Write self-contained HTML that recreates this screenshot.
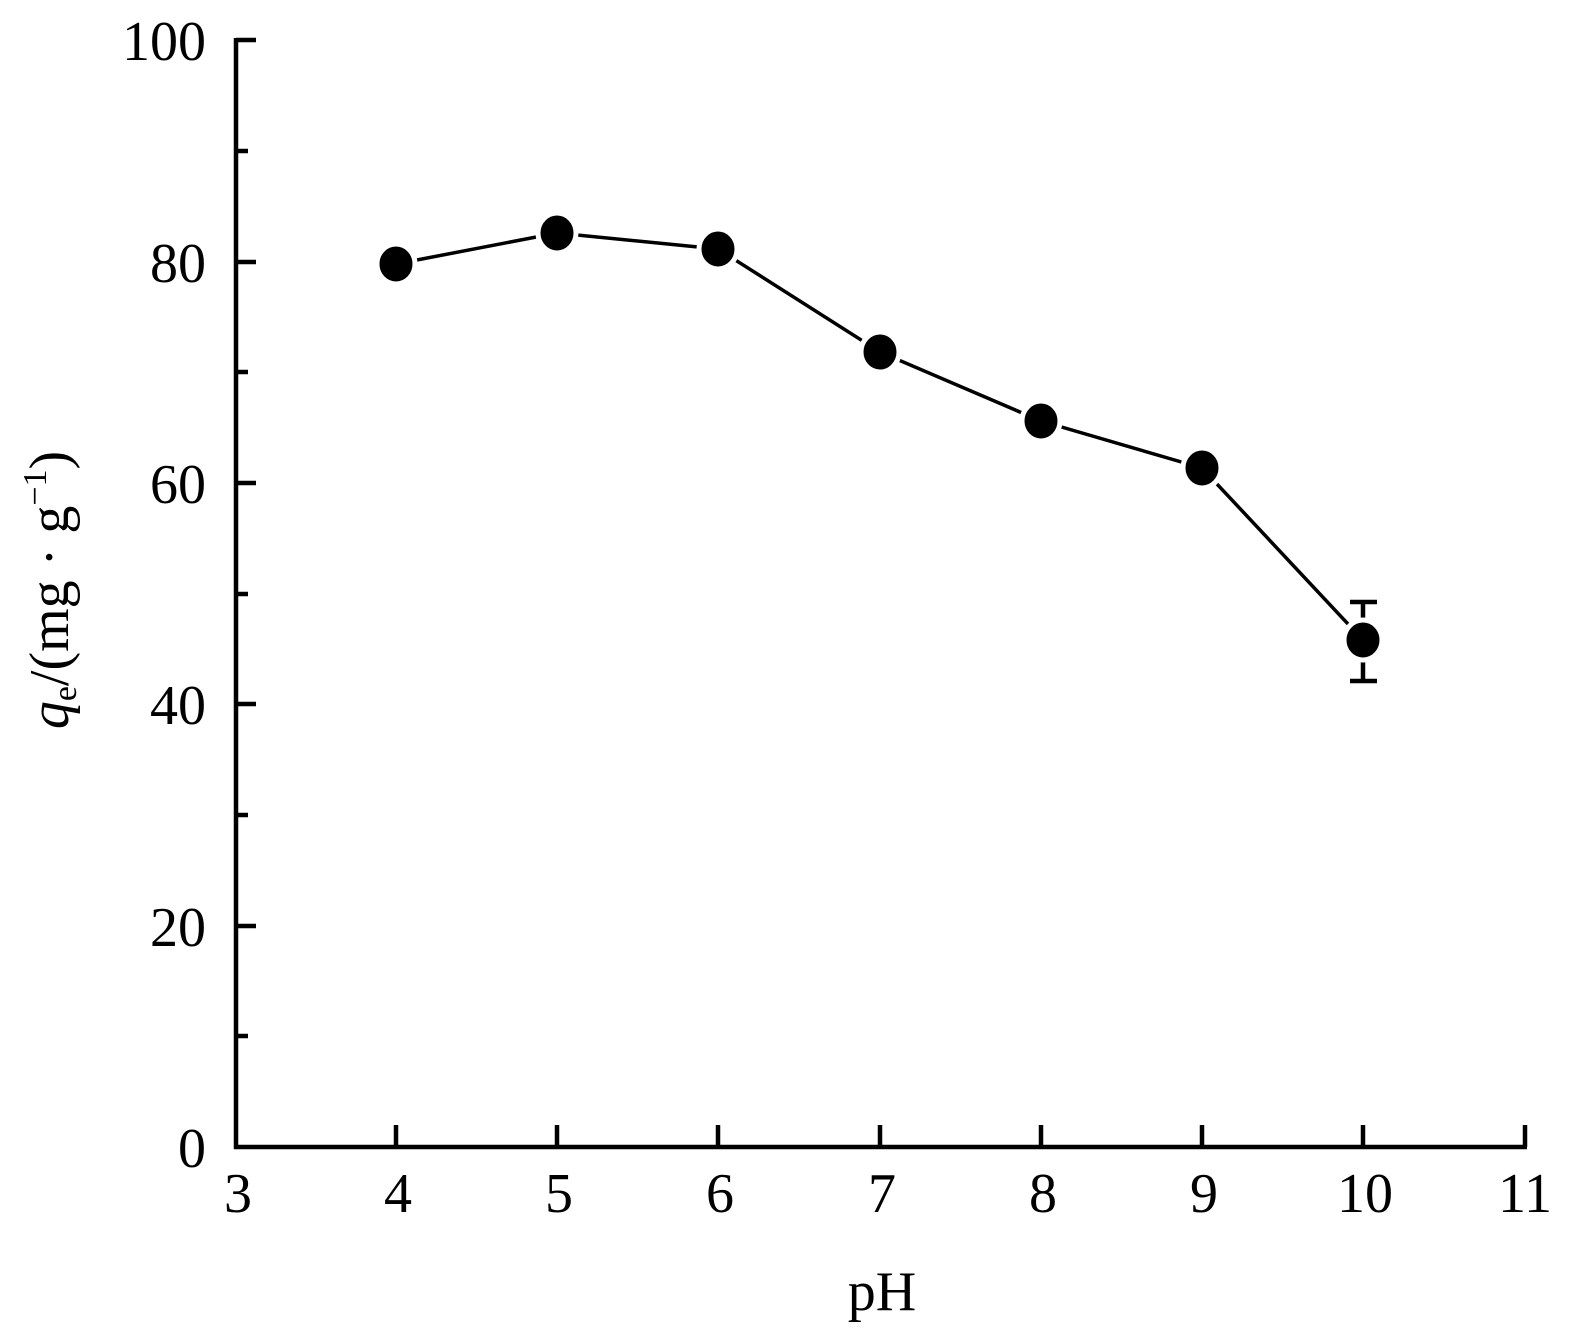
<!DOCTYPE html>
<html><head><meta charset="utf-8"><style>body{margin:0;background:#fff}svg{display:block}text{font-family:"Liberation Serif","Times New Roman",serif}</style></head>
<body>
<svg width="1579" height="1340" xmlns="http://www.w3.org/2000/svg" fill="#000">
<g stroke="#000" stroke-width="4.5" fill="none">
<line x1="236" y1="38" x2="236" y2="1149"/>
<line x1="234" y1="1147" x2="1527" y2="1147"/>
<line x1="236" y1="40" x2="256" y2="40"/>
<line x1="236" y1="151" x2="248" y2="151"/>
<line x1="236" y1="262" x2="256" y2="262"/>
<line x1="236" y1="372" x2="248" y2="372"/>
<line x1="236" y1="483" x2="256" y2="483"/>
<line x1="236" y1="594" x2="248" y2="594"/>
<line x1="236" y1="704" x2="256" y2="704"/>
<line x1="236" y1="815" x2="248" y2="815"/>
<line x1="236" y1="926" x2="256" y2="926"/>
<line x1="236" y1="1036" x2="248" y2="1036"/>
<line x1="396" y1="1147" x2="396" y2="1125"/>
<line x1="557" y1="1147" x2="557" y2="1125"/>
<line x1="718" y1="1147" x2="718" y2="1125"/>
<line x1="880" y1="1147" x2="880" y2="1125"/>
<line x1="1041" y1="1147" x2="1041" y2="1125"/>
<line x1="1202" y1="1147" x2="1202" y2="1125"/>
<line x1="1363" y1="1147" x2="1363" y2="1125"/>
<line x1="1525" y1="1147" x2="1525" y2="1125"/>
<line x1="1363" y1="602" x2="1363" y2="681"/>
<line x1="1350" y1="602" x2="1377" y2="602"/>
<line x1="1350" y1="681" x2="1377" y2="681"/>
<polyline stroke-width="3.5" points="396,264 557,233 718,249 880,352 1041,421 1202,468 1363,640"/>
</g>
<g stroke="#fff" stroke-width="5">
<ellipse cx="396" cy="264" rx="19" ry="20"/>
<ellipse cx="557" cy="233" rx="19" ry="20"/>
<ellipse cx="718" cy="249" rx="19" ry="20"/>
<ellipse cx="880" cy="352" rx="19" ry="20"/>
<ellipse cx="1041" cy="421" rx="19" ry="20"/>
<ellipse cx="1202" cy="468" rx="19" ry="20"/>
<ellipse cx="1363" cy="640" rx="19" ry="20"/>
</g>
<g font-size="56" text-anchor="end">
<text x="206" y="60">100</text>
<text x="206" y="282">80</text>
<text x="206" y="503">60</text>
<text x="206" y="724">40</text>
<text x="206" y="946">20</text>
<text x="206" y="1167">0</text>
</g>
<g font-size="56" text-anchor="middle">
<text x="238" y="1212">3</text>
<text x="398" y="1212">4</text>
<text x="559" y="1212">5</text>
<text x="720" y="1212">6</text>
<text x="882" y="1212">7</text>
<text x="1043" y="1212">8</text>
<text x="1204" y="1212">9</text>
<text x="1365" y="1212">10</text>
<text x="1525" y="1212">11</text>
<text x="882" y="1310">pH</text>
</g>
<text transform="translate(68,590) rotate(-90)" font-size="56" text-anchor="middle"><tspan font-style="italic">q</tspan><tspan font-size="34" dy="8">e</tspan><tspan dy="-8">/(mg · g</tspan><tspan font-size="34" dy="-22">−1</tspan><tspan dy="22">)</tspan></text>
</svg>
</body></html>
